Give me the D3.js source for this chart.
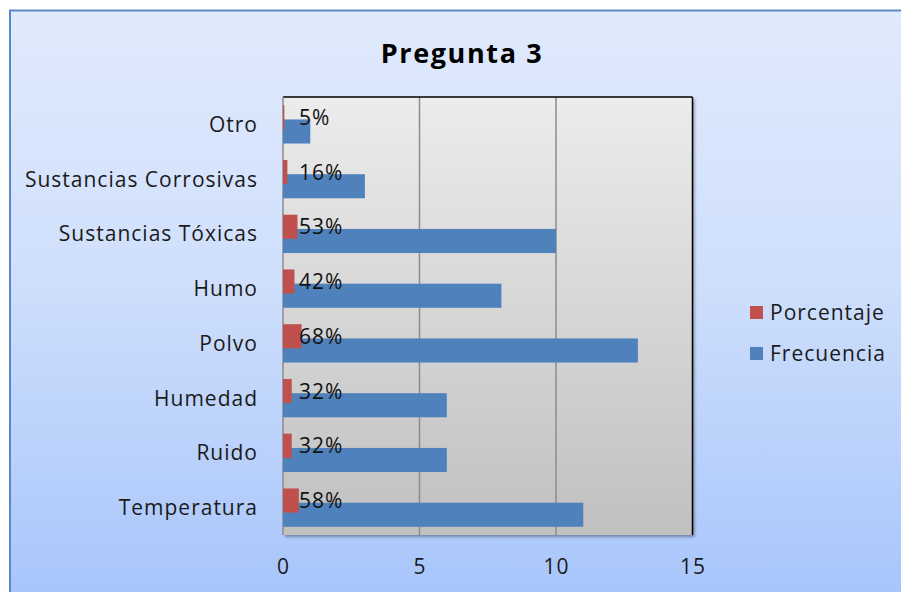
<!DOCTYPE html>
<html>
<head>
<meta charset="utf-8">
<script src="https://cdn.jsdelivr.net/npm/d3@7/dist/d3.min.js"></script>
<style>
  html, body { margin: 0; padding: 0; background: #ffffff; }
  svg { display: block; }
  text { font-family: "Open Sans", "DejaVu Sans", sans-serif; fill: #1a1a1a; }
</style>
</head>
<body>
<svg id="chart" width="901" height="592"></svg>
<script>
// Survey question 3: exposure factors
const categories = ["Temperatura", "Ruido", "Humedad", "Polvo", "Humo",
                    "Sustancias Tóxicas", "Sustancias Corrosivas", "Otro"];
const frecuencia = [11, 6, 6, 13, 8, 10, 3, 1];
const porcentaje = [0.58, 0.32, 0.32, 0.68, 0.42, 0.53, 0.16, 0.05];
const xTicks = [0, 5, 10, 15];
const seriesNames = ["Porcentaje", "Frecuencia"];
const colors = { Porcentaje: "#c0504d", Frecuencia: "#4f81bd" };

const svg = d3.select("#chart");
const defs = svg.append("defs");

const bgGrad = defs.append("linearGradient").attr("id", "bgGrad")
  .attr("x1", 0).attr("y1", 0).attr("x2", 0).attr("y2", 1);
bgGrad.append("stop").attr("offset", "0%").attr("stop-color", "#e0eafc");
bgGrad.append("stop").attr("offset", "45%").attr("stop-color", "#cfdffc");
bgGrad.append("stop").attr("offset", "100%").attr("stop-color", "#a6c4fb");

const plotGrad = defs.append("linearGradient").attr("id", "plotGrad")
  .attr("x1", 0).attr("y1", 0).attr("x2", 0).attr("y2", 1);
plotGrad.append("stop").attr("offset", "0%").attr("stop-color", "#ececec");
plotGrad.append("stop").attr("offset", "100%").attr("stop-color", "#c0c0c0");

const shadow = defs.append("filter").attr("id", "shadow")
  .attr("x", "-5%").attr("y", "-5%").attr("width", "115%").attr("height", "115%");
shadow.append("feDropShadow").attr("dx", 2).attr("dy", 2).attr("stdDeviation", 1.5)
  .attr("flood-color", "#000").attr("flood-opacity", 0.35);

const labelFont = "21px";
const labelSpacing = "1px";

// Chart background
svg.append("rect").attr("x", 10).attr("y", 10.5).attr("width", 900).attr("height", 600)
  .attr("fill", "url(#bgGrad)").attr("stroke", "#5a87c5").attr("stroke-width", 2);

// Title
svg.append("text").attr("x", 462).attr("y", 63).attr("text-anchor", "middle")
  .style("font-size", "27px").style("font-weight", "bold").style("fill", "#000")
  .style("letter-spacing", "1.6px")
  .text("Pregunta 3");

const plot = { left: 283, top: 97, right: 692.5, bottom: 535 };

const x = d3.scaleLinear().domain([0, 15]).range([plot.left, plot.right]);
const y = d3.scaleBand().domain(categories.slice().reverse())
  .range([plot.top, plot.bottom]).paddingInner(0).paddingOuter(0);
const bw = y.bandwidth();
const barH = bw * 0.44;
const shift = bw * 0.13;

// Plot area
svg.append("rect").attr("x", plot.left).attr("y", plot.top)
  .attr("width", plot.right - plot.left).attr("height", plot.bottom - plot.top)
  .attr("fill", "url(#plotGrad)").attr("filter", "url(#shadow)");

// Vertical gridlines
svg.append("g").selectAll("line").data(xTicks.slice(1, -1)).join("line")
  .attr("x1", d => x(d)).attr("x2", d => x(d))
  .attr("y1", plot.top).attr("y2", plot.bottom)
  .attr("stroke", "#8c8c8c").attr("stroke-width", 1.5);

// Plot borders
svg.append("line").attr("x1", plot.left).attr("x2", plot.right)
  .attr("y1", plot.top).attr("y2", plot.top).attr("stroke", "#000").attr("stroke-width", 1.5);
svg.append("line").attr("x1", plot.right).attr("x2", plot.right)
  .attr("y1", plot.top).attr("y2", plot.bottom).attr("stroke", "#000").attr("stroke-width", 1.5);
svg.append("line").attr("x1", plot.left).attr("x2", plot.left)
  .attr("y1", plot.top).attr("y2", plot.bottom).attr("stroke", "#8c8c8c").attr("stroke-width", 1.5);

const rows = categories.map((c, i) => ({ c, f: frecuencia[i], p: porcentaje[i] }));

// Frecuencia bars
svg.append("g").selectAll("rect").data(rows).join("rect")
  .attr("x", x(0))
  .attr("y", d => y(d.c) + bw / 2 + shift - barH / 2)
  .attr("width", d => x(d.f) - x(0))
  .attr("height", barH)
  .attr("fill", colors.Frecuencia);

// Porcentaje bars
svg.append("g").selectAll("rect").data(rows).join("rect")
  .attr("x", x(0))
  .attr("y", d => y(d.c) + bw / 2 - shift - barH / 2)
  .attr("width", d => x(d.p) - x(0))
  .attr("height", barH)
  .attr("fill", colors.Porcentaje);

// Percentage labels
svg.append("g").selectAll("text").data(rows).join("text")
  .attr("x", x(0) + 16)
  .attr("y", d => y(d.c) + bw / 2 - shift)
  .attr("dy", "0.36em")
  .style("font-size", labelFont).style("letter-spacing", labelSpacing).style("fill", "#111")
  .text(d => d3.format(".0%")(d.p));

// Category axis labels
svg.append("g").selectAll("text").data(categories).join("text")
  .attr("x", 258)
  .attr("y", d => y(d) + bw / 2)
  .attr("dy", "0.36em")
  .attr("text-anchor", "end")
  .style("font-size", labelFont).style("letter-spacing", labelSpacing)
  .text(d => d);

// Value axis labels
const xAxis = svg.append("g").attr("transform", `translate(0,${plot.bottom})`)
  .call(d3.axisBottom(x).tickValues(xTicks).tickSize(0).tickPadding(24).tickFormat(d3.format("d")));
xAxis.select(".domain").remove();
xAxis.selectAll("text").style("font-size", labelFont).style("letter-spacing", labelSpacing)
  .style("fill", "#1a1a1a")
  .style("font-family", "'Open Sans', 'DejaVu Sans', sans-serif");

// Legend
const legend = svg.append("g").selectAll("g").data(seriesNames).join("g")
  .attr("transform", (d, i) => `translate(750, ${312 + i * 41})`);
legend.append("rect").attr("x", 0).attr("y", -6).attr("width", 13).attr("height", 13)
  .attr("fill", d => colors[d]);
legend.append("text").attr("x", 20).attr("y", 0).attr("dy", "0.36em")
  .style("font-size", labelFont).style("letter-spacing", labelSpacing).text(d => d);
</script>
</body>
</html>
